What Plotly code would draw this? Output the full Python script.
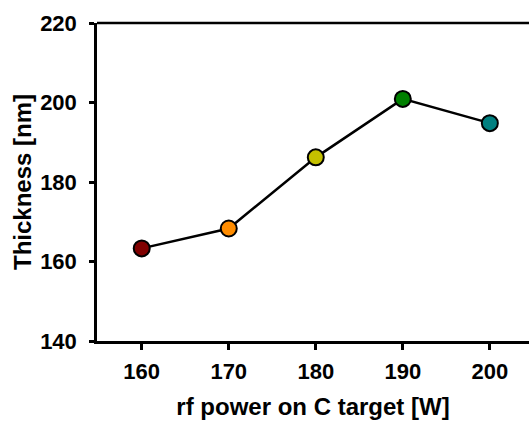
import plotly.graph_objects as go

power_w = [160, 170, 180, 190, 200]
thickness_nm = [163.3, 168.3, 186.2, 200.9, 194.8]
marker_colors = ["#800000", "#FF8C00", "#C4C000", "#008000", "#008080"]
x_ticks = [160, 170, 180, 190, 200]
y_ticks = [140, 160, 180, 200, 220]

FONT = "Liberation Sans, Arial, sans-serif"

fig = go.Figure()
fig.add_trace(go.Scatter(
    x=power_w, y=thickness_nm, mode="lines+markers",
    line=dict(color="black", width=2.5),
    marker=dict(size=16, color=marker_colors, line=dict(color="black", width=2)),
    showlegend=False,
))

fig.update_layout(
    width=529, height=421,
    margin=dict(l=97, r=0, t=23, b=80),
    plot_bgcolor="white", paper_bgcolor="white",
    font=dict(family=FONT, color="black"),
    xaxis=dict(
        range=[154.86, 204.5], tickvals=x_ticks, ticktext=[f"<b>{v}</b>" for v in x_ticks],
        ticks="outside", ticklen=6, tickwidth=2.5,
        tickcolor="black", showline=True, linecolor="black", linewidth=2.5,
        showgrid=False, zeroline=False, ticklabelstandoff=3,
        tickfont=dict(size=22, family=FONT),
        title=dict(text="<b>rf power on C target [W]</b>", font=dict(size=24, family=FONT), standoff=16),
    ),
    yaxis=dict(
        range=[140, 220], tickvals=y_ticks, ticktext=[f"<b>{v}</b>" for v in y_ticks],
        ticks="outside", ticklen=5, tickwidth=2.5,
        tickcolor="black", showline=True, linecolor="black", linewidth=2.5,
        showgrid=False, zeroline=False, ticklabelstandoff=8,
        tickfont=dict(size=22, family=FONT),
        title=dict(text="<b>Thickness [nm]</b>", font=dict(size=24, family=FONT), standoff=2),
    ),
    shapes=[dict(type="line", xref="paper", yref="paper", x0=0, x1=1, y0=1, y1=1,
                 line=dict(color="black", width=2.5))],
)

fig.write_html("out.html")
